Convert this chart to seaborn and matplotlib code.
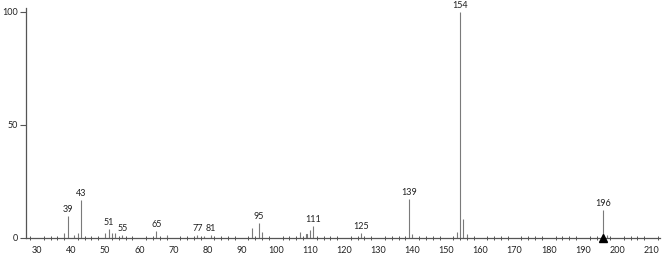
import matplotlib
matplotlib.use("Agg")
import matplotlib.pyplot as plt
import seaborn as sns
import pandas as pd
import numpy as np
from matplotlib.ticker import MultipleLocator

mz = [38, 39, 41, 42, 43, 50, 51, 52, 53, 55, 65, 68, 77, 79, 81,
      93, 95, 96, 107, 109, 110, 111, 125, 139, 140,
      153, 154, 155, 156, 196, 197]
intensity = [2.2, 9.9, 1.3, 2.2, 17.0, 2.2, 4.0, 2.0, 2.0, 1.3, 3.2, 1.5, 1.3, 1.0, 1.3,
             4.6, 6.5, 2.6, 2.6, 1.8, 3.5, 5.3, 2.4, 17.3, 1.8,
             2.8, 100.0, 8.4, 1.8, 12.4, 1.5]
labeled = [39, 43, 51, 55, 65, 77, 81, 95, 111, 125, 139, 154, 196]
molecular_ion = 196

df = pd.DataFrame({"mz": mz, "intensity": intensity})

sns.set_style("white")
plt.rcParams['font.family'] = ['Lato', 'DejaVu Sans']

fig = plt.figure(figsize=(6.66, 2.54), dpi=100)
ax = fig.add_axes([0.039, 0.063, 0.952, 0.906])

sns.barplot(data=df, x="mz", y="intensity", native_scale=True, width=0.02,
            color="#7a7a7a", saturation=1, linewidth=0.8, edgecolor="#7a7a7a", ax=ax)

lookup = dict(zip(mz, intensity))
for m in labeled:
    ax.text(m, lookup[m] + 0.9, str(m), ha="center", va="bottom",
            fontsize=6.5, color="#222222")

ax.plot([molecular_ion], [0], marker="^", color="black", markersize=6,
        clip_on=False, zorder=5, linestyle="none")

ax.set_xlim(26.8, 212.6)
ax.set_ylim(0, 101.8)
ax.xaxis.set_major_locator(MultipleLocator(10))
ax.xaxis.set_minor_locator(MultipleLocator(2))
ax.set_yticks([0, 50, 100])
ax.set_xlabel("")
ax.set_ylabel("")

for s in ["top", "right"]:
    ax.spines[s].set_visible(False)
for s in ["left", "bottom"]:
    ax.spines[s].set_color("#555555")
    ax.spines[s].set_linewidth(0.9)

ax.tick_params(axis="x", which="major", direction="out", length=4, width=0.8,
               color="#555555", labelsize=6.5, labelcolor="#222222", pad=1.5)
ax.tick_params(axis="x", which="minor", direction="inout", length=3, width=0.7,
               color="#555555", bottom=True)
ax.tick_params(axis="y", which="major", direction="out", length=4, width=0.8,
               color="#555555", labelsize=6.5, labelcolor="#222222", pad=1.5, left=True)

fig.savefig("out.png", dpi=100)
